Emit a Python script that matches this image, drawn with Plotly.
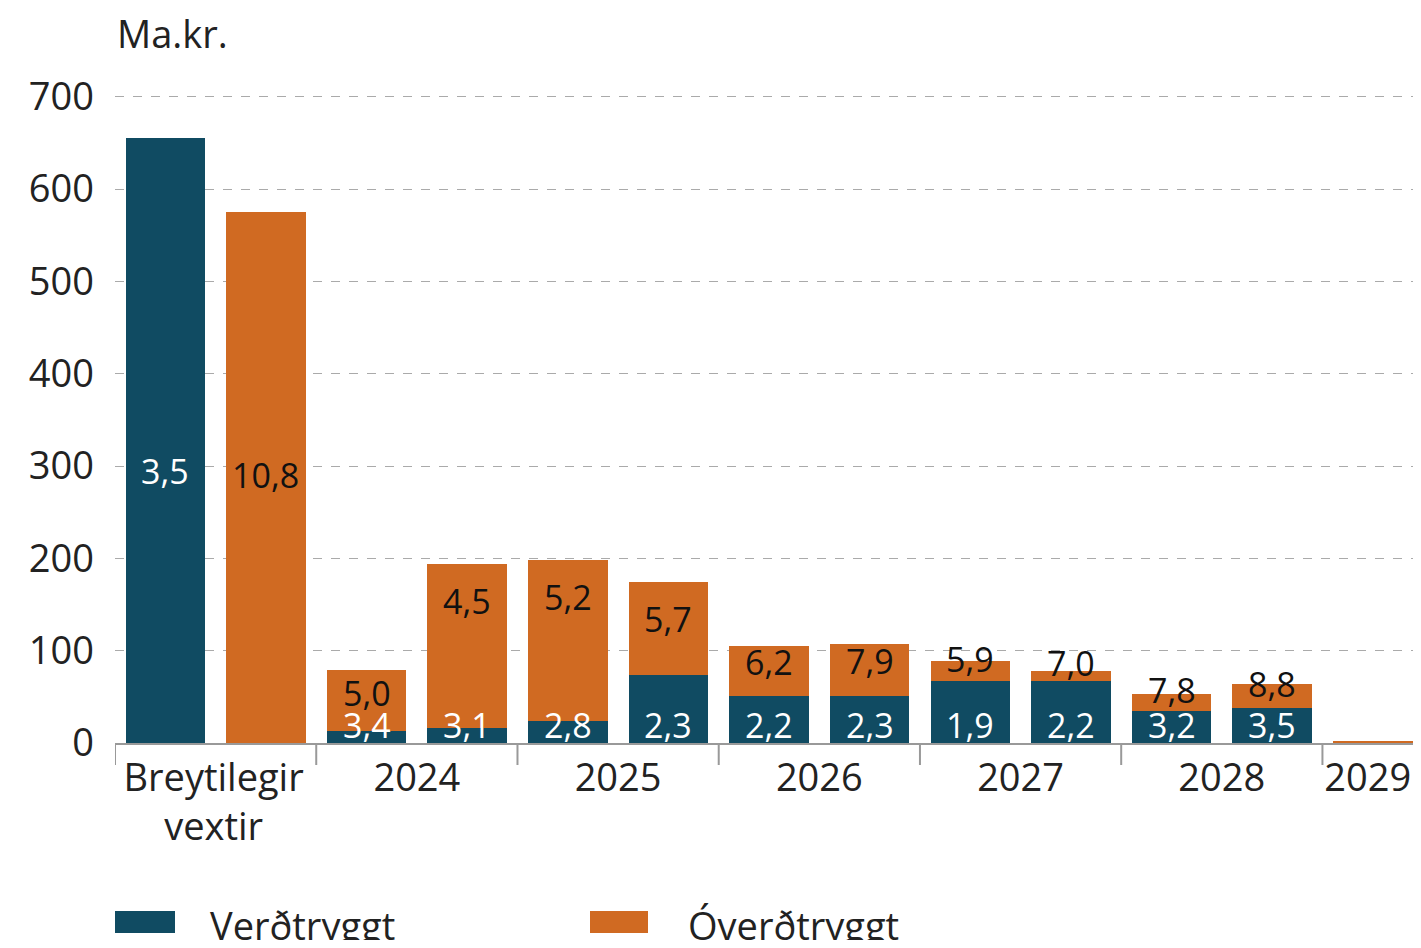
import plotly.graph_objects as go

# ---- data ----
categories = ["Breytilegir vextir A", "Breytilegir vextir B", "2024 H1", "2024 H2", "2025 H1", "2025 H2",
              "2026 H1", "2026 H2", "2027 H1", "2027 H2", "2028 H1", "2028 H2", "2029"]
verdtryggt = [655, 0, 13, 16, 24, 74, 51, 51, 67, 67, 35, 38, 1]
overdtryggt = [0, 575, 66, 178, 174, 100, 54, 56, 22, 11, 18, 26, 0.5]
verd_labels = ["3,5", "", "3,4", "3,1", "2,8", "2,3", "2,2", "2,3", "1,9", "2,2", "3,2", "3,5", ""]
overd_labels = ["", "10,8", "5,0", "4,5", "5,2", "5,7", "6,2", "7,9", "5,9", "7,0", "7,8", "8,8", ""]
group_labels = ["Breytilegir<br>vextir", "2024", "2025", "2026", "2027", "2028", "2029"]
group_centers = [0.48, 2.5, 4.5, 6.5, 8.5, 10.5, 11.95]
group_separators = [-0.5, 1.5, 3.5, 5.5, 7.5, 9.5, 11.5]
y_ticks = [0, 100, 200, 300, 400, 500, 600, 700]

BLUE = "#104b62"
ORANGE = "#d06a22"
FONT = "Open Sans"
x = list(range(len(categories)))

fig = go.Figure()
fig.add_bar(x=x, y=verdtryggt, name="Verðtryggt", marker=dict(color=BLUE, line=dict(width=0)), width=0.79)
fig.add_bar(x=x, y=overdtryggt, name="Óverðtryggt", marker=dict(color=ORANGE, line=dict(width=0)), width=0.79)

annotations = []
for i in x:
    b, o = verdtryggt[i], overdtryggt[i]
    if verd_labels[i]:
        yb = b * 0.45 if o == 0 else 20
        annotations.append(dict(x=i, y=yb, xref="x", yref="y", text=verd_labels[i], showarrow=False,
                                font=dict(family=FONT, size=34, color="white"), yanchor="middle"))
    if overd_labels[i]:
        if b == 0:
            yo = o * 0.505
        else:
            off = min(max(0.6 * o - 15, -12), 40)
            yo = b + o - off
        annotations.append(dict(x=i, y=yo, xref="x", yref="y", text=overd_labels[i], showarrow=False,
                                font=dict(family=FONT, size=34, color="#111111"), yanchor="middle"))

# y-axis unit
annotations.append(dict(x=0, y=1.095, xref="paper", yref="paper", text="Ma.kr.", showarrow=False,
                        xanchor="left", yanchor="middle", font=dict(family=FONT, size=38, color="#222222")))

# custom legend (page pixel helpers; plot area spans page x 115..1413, y 95..743)
shapes = []
PW = 1298.0
PH = 648.0
def px_x(p):
    return (p - 115) / PW
def px_y(p):
    return (743 - p) / PH

legend_items = [("Verðtryggt", BLUE, 115, 175, 208), ("Óverðtryggt", ORANGE, 590, 648, 686)]
for name, col, x0, x1, tx in legend_items:
    shapes.append(dict(type="rect", xref="paper", yref="paper", x0=px_x(x0), x1=px_x(x1),
                       y0=px_y(933), y1=px_y(911), fillcolor=col, line=dict(width=0)))
    annotations.append(dict(x=px_x(tx), y=px_y(925), xref="paper", yref="paper", text=name, showarrow=False,
                            xanchor="left", yanchor="middle", font=dict(family=FONT, size=38, color="#222222")))

for s in group_separators:
    shapes.append(dict(type="line", xref="x", yref="paper", x0=s, x1=s, y0=0, y1=-22 / PH,
                       line=dict(color="#999999", width=2)))

fig.update_layout(
    barmode="stack",
    width=1405, height=932,
    margin=dict(l=107, r=0, t=87, b=197),
    paper_bgcolor="white", plot_bgcolor="white",
    showlegend=False,
    font=dict(family=FONT, size=38, color="#222222"),
    annotations=annotations,
    shapes=shapes,
    xaxis=dict(range=[-0.5, 12.40], tickvals=group_centers, ticktext=group_labels, ticks="",
               showgrid=False, showline=True, linecolor="#999999", linewidth=2, zeroline=False,
               tickfont=dict(family=FONT, size=38, color="#222222"), fixedrange=True),
    yaxis=dict(range=[0, 702], tickvals=y_ticks, showgrid=True, gridcolor="#aaaaaa", griddash="dash",
               gridwidth=1, zeroline=False, showline=False, ticks="", ticklabelstandoff=20,
               tickfont=dict(family=FONT, size=38, color="#222222")),
)

fig.write_html("out.html")
